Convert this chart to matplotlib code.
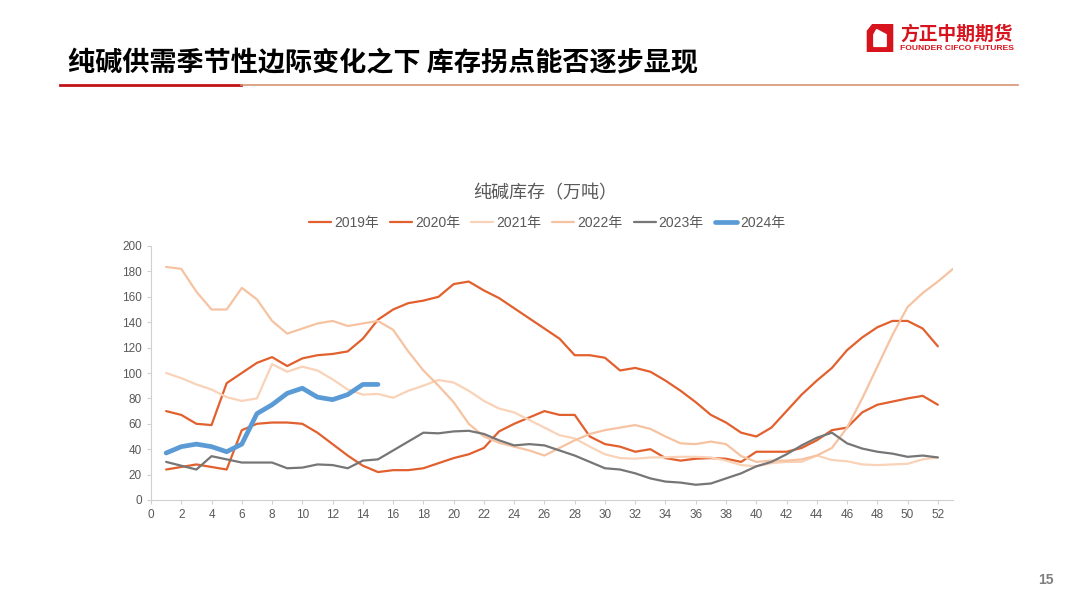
import matplotlib.pyplot as plt
from matplotlib.patches import Polygon

plt.rcParams['font.family'] = ['Liberation Sans', 'Noto Sans CJK SC', 'DejaVu Sans']

weeks = list(range(1, 54))

# 纯碱库存（万吨），按周
inv_2019 = [24, 26, 28, 26, 24, 55, 60, 61, 61, 60, 53, 44, 35, 27, 22, 23.5, 23.5, 25,
            29, 33, 36, 41, 54, 60, 65, 70, 67, 67, 50, 44, 42, 38, 40, 33, 31, 32.5,
            33, 32.5, 30, 38, 38, 38, 41, 47, 55, 57, 69, 75, 77.5, 80, 82, 75]
inv_2020 = [70, 67, 60, 59, 92, 100, 108, 112.5, 105.5, 111.5, 114, 115, 117, 127, 142,
            150, 155, 157, 160, 170, 172, 165, 159, 151, 143, 135, 127, 114, 114, 112,
            102, 104, 101, 94, 86, 77, 67, 61, 53, 50, 57, 70, 83, 94, 104, 118, 128,
            136, 141, 141, 135, 121]
inv_2021 = [100, 96, 91, 87, 81, 78, 80, 107, 101, 105, 102, 95, 87, 83, 83.5, 80.5, 86,
            90, 94.5, 92.5, 86, 78, 72, 69, 63, 57, 51, 48.5, 42, 36, 33, 32.5, 33.5,
            33.6, 34, 34, 33.5, 31, 27.5, 26.5, 29, 30, 30, 35, 31.5, 30.5, 28, 27.5,
            28, 28.5, 32, 33.5]
inv_2022 = [183.5, 182, 164, 150, 150, 167, 158, 141, 131, 135, 139, 141, 137, 139, 141,
            134, 117, 102, 90, 77, 60, 50, 45, 42, 39, 35, 41, 47, 52, 55, 57, 59, 56,
            50, 44.6, 44, 46, 44, 34.6, 30, 31, 31, 32, 35, 41, 57, 80, 105, 130, 152,
            163, 172, 182]
inv_2023 = [30, 27, 24, 34.5, 32, 29.5, 29.5, 29.5, 25, 25.5, 28, 27.5, 25, 31, 32, 39,
            46, 53, 52.5, 54, 54.5, 52, 47, 43, 44, 43, 39, 35, 30, 25, 24, 21, 17,
            14.5, 13.7, 12, 13, 17, 21, 26.5, 30, 36, 43, 49, 53, 44.6, 40.5, 38, 36.5,
            34, 35, 33.5]
inv_2024 = [37, 42, 44, 42, 38, 44, 68, 75, 84, 88, 81, 79, 83, 91, 91]

series = [('2019年', inv_2019, '#E2602E', 1.6),
          ('2020年', inv_2020, '#E2602E', 1.6),
          ('2021年', inv_2021, '#F9D2B8', 1.6),
          ('2022年', inv_2022, '#F6C3A2', 1.6),
          ('2023年', inv_2023, '#767676', 1.6),
          ('2024年', inv_2024, '#5B9BD5', 3.4)]

fig = plt.figure(figsize=(10.8, 6.08), dpi=100)

# 页眉标题
fig.text(68 / 1080, 1 - 63 / 608, '纯碱供需季节性边际变化之下 库存拐点能否逐步显现',
         family=['Noto Sans CJK SC'], fontsize=19.5, fontweight='heavy',
         color='black', va='center', ha='left')
fig.add_artist(plt.Line2D([60 / 1080, 241 / 1080], [1 - 85 / 608] * 2,
                          color='#C0141B', lw=2.0))
fig.add_artist(plt.Line2D([241 / 1080, 1018 / 1080], [1 - 85 / 608] * 2,
                          color='#D49470', lw=1.2))

# logo
logo = fig.add_axes([866 / 1080, 1 - 52 / 608, 28 / 1080, 28 / 608])
logo.set_xlim(0, 1)
logo.set_ylim(0, 1)
logo.axis('off')
logo.add_patch(Polygon([[0.05, 0.0], [0.95, 0.0], [0.95, 1.0], [0.25, 1.0], [0.05, 0.75]],
                       color='#D7141E'))
logo.add_patch(Polygon([[0.28, 0.2], [0.72, 0.2], [0.72, 0.62], [0.38, 0.8], [0.28, 0.62]],
                       color='white'))
fig.text(900 / 1080, 1 - 34 / 608, '方正中期期货', family=['Noto Sans CJK SC'],
         fontsize=13.5, fontweight='bold', color='#D7141E', va='center', ha='left')
fig.text(900 / 1080, 1 - 48 / 608, 'FOUNDER CIFCO FUTURES', family=['Liberation Sans'],
         fontsize=6.1, fontweight='bold', color='#D7141E', va='center', ha='left')

# 页码
fig.text(1046 / 1080, 1 - 580 / 608, '15', fontsize=10, fontweight='bold',
         color='#7F7F7F', ha='center', va='center')

# 图表
ax = fig.add_axes([151 / 1080, 1 - 500 / 608, 802 / 1080, 254 / 608])
for name, vals, color, lw in series:
    ax.plot(weeks[:len(vals)], vals, color=color, lw=lw, label=name,
            solid_joinstyle='round', solid_capstyle='round')

ax.set_xlim(0, 53)
ax.set_ylim(0, 200)
ax.set_xticks(range(0, 53, 2))
ax.set_yticks(range(0, 201, 20))
ax.tick_params(axis='both', colors='#D0D0D0', labelcolor='#595959', labelsize=8.5,
               length=3, width=0.8)
for s in ['top', 'right']:
    ax.spines[s].set_visible(False)
for s in ['left', 'bottom']:
    ax.spines[s].set_color('#D0D0D0')
    ax.spines[s].set_linewidth(0.8)

fig.text(545 / 1080, 1 - 193 / 608, '纯碱库存（万吨）', family=['Noto Sans CJK SC'],
         fontsize=13, color='#595959', ha='center', va='center')
fig.legend(loc='center', bbox_to_anchor=(547 / 1080, 1 - 223 / 608), ncol=6,
           frameon=False, fontsize=10, labelcolor='#595959', handlelength=1.6,
           handletextpad=0.2, columnspacing=0.8)

fig.savefig('out.png', dpi=100, facecolor='white')
